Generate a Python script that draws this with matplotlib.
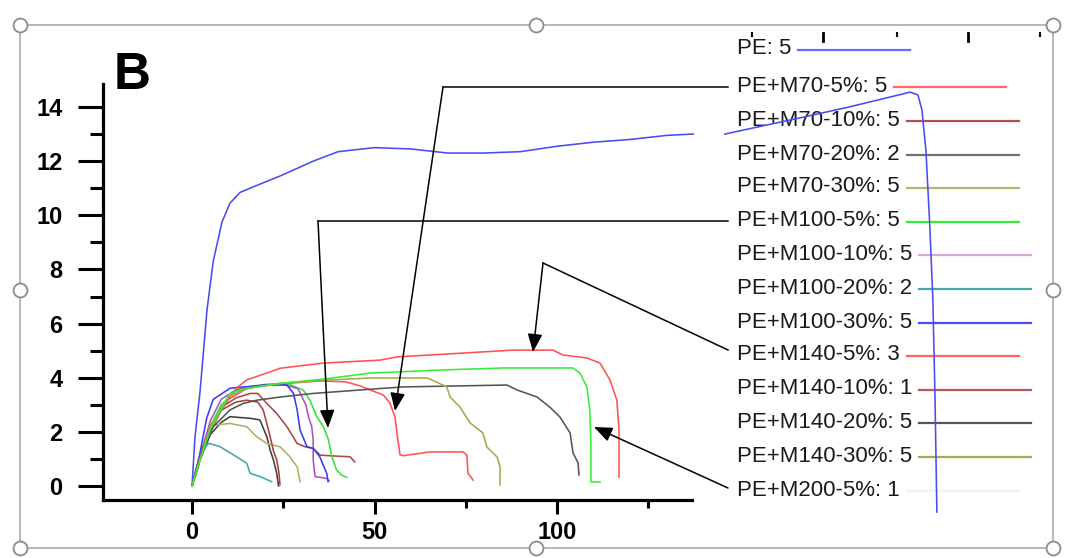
import numpy as np
import matplotlib
matplotlib.use("Agg")
import matplotlib.pyplot as plt
from matplotlib.lines import Line2D
from matplotlib.patches import Rectangle, FancyArrowPatch

# ---------------- data ----------------
pe_x = [0, 0.8, 2.2, 4.1, 5.8, 8.2, 10.4, 13.2, 18.6, 24.1, 33.2, 40, 50, 60, 70, 80, 90, 100, 110,
        120, 130, 137, 146, 166.6, 180, 195.3, 196.7, 198.9, 200, 201.1, 202.2, 203, 203.6, 204.1]
pe_y = [0, 1.8, 3.5, 6.5, 8.3, 9.75, 10.45, 10.85, 11.15, 11.45, 12.0, 12.35, 12.5, 12.45, 12.3, 12.3, 12.35,
        12.55, 12.7, 12.8, 12.95, 13.0, 13.0, 13.6, 14.0, 14.5, 14.55, 14.45, 13.9, 12.4, 9.5, 6.9, 3.2, -0.96]

m70_5_x = [0, 2, 5, 10, 15, 20, 27, 35, 42, 46, 48.8, 52.4, 54.2, 55.6, 56.4, 57, 58, 65.2, 74.2, 75.3, 75.6, 77]
m70_5_y = [0, 1.0, 2.2, 3.2, 3.6, 3.75, 3.8, 3.88, 3.85, 3.7, 3.55, 3.36, 3.07, 2.55, 1.7, 1.15, 1.12, 1.26, 1.26, 1.15, 0.48, 0.22]

m70_10_x = [0, 2, 5, 8, 12, 16, 18, 20.5, 23.2, 26, 28.8, 31, 33.2, 35.1, 40, 43.3, 44.6]
m70_10_y = [0, 1.0, 2.2, 2.9, 3.25, 3.42, 3.42, 3.05, 2.68, 2.19, 1.57, 1.45, 1.39, 1.14, 1.1, 1.08, 0.89]

m70_20_x = [0, 2, 5, 8, 10.4, 16, 18.6, 20.5, 21.4, 22.3, 23.2, 23.7]
m70_20_y = [0, 0.9, 1.9, 2.35, 2.56, 2.50, 2.44, 1.82, 1.33, 0.96, 0.47, 0.0]

m70_30_x = [0, 2, 4, 5.8, 10.4, 15, 17.7, 20.5, 24.1, 26.8, 28.8, 29.6]
m70_30_y = [0, 1.0, 1.8, 2.25, 2.31, 2.19, 1.82, 1.57, 1.45, 1.08, 0.71, 0.16]

m100_5_x = [0, 2, 5, 8, 12, 18, 24, 26.8, 30.5, 32.3, 34.2, 36, 37.4, 38.3, 39.6, 41, 42.4]
m100_5_y = [0, 0.9, 2.2, 3.0, 3.5, 3.7, 3.79, 3.75, 3.54, 3.17, 2.56, 2.19, 1.70, 1.08, 0.59, 0.4, 0.32]

m100_10_x = [0, 2, 5, 8, 12, 18, 25, 29, 31.2, 31.9, 32.8, 33.2, 33.2, 33.7, 36.9, 37.5]
m100_10_y = [0, 1.0, 2.4, 3.2, 3.55, 3.7, 3.75, 3.6, 3.0, 2.56, 2.19, 1.70, 0.96, 0.35, 0.28, 0.2]

m100_20_x = [0, 1, 2.5, 4.5, 7.7, 12.2, 15, 15.9, 18.6, 21.8]
m100_20_y = [0, 0.6, 1.2, 1.58, 1.45, 1.08, 0.84, 0.47, 0.35, 0.16]

m100_30_x = [0, 2, 4, 5.8, 10.4, 15, 19.6, 26, 27.8, 28.8, 29.6, 31.5, 33.2, 35, 36.9, 37.3]
m100_30_y = [0, 1.1, 2.5, 3.2, 3.61, 3.67, 3.73, 3.73, 3.42, 2.81, 2.07, 1.45, 1.39, 1.08, 0.47, 0.16]

m140_5_x = [0, 1, 2.2, 4, 5.8, 8, 10.4, 12.5, 15, 20, 24.1, 35.9, 51.5, 56.2, 74.2, 88, 98.9, 101.6,
            108.2, 111.8, 114.5, 116.4, 117, 117]
m140_5_y = [0, 0.5, 1.05, 1.7, 2.19, 2.8, 3.30, 3.65, 3.92, 4.15, 4.35, 4.54, 4.65, 4.77, 4.91, 5.02,
            5.02, 4.84, 4.73, 4.54, 3.92, 3.18, 2.07, 0.33]

m140_10_x = [0, 2, 5, 8, 12, 15, 18, 19.5, 20.5, 21.4, 22.3, 23.2, 23.8, 24.1]
m140_10_y = [0, 1.0, 2.2, 2.8, 3.1, 3.17, 3.1, 2.81, 2.3, 1.82, 1.3, 0.96, 0.5, 0.05]

m140_20_x = [0, 1.5, 3.1, 5.8, 10.4, 14, 17.7, 25, 33.2, 51.5, 57.8, 86.3, 89, 94.5, 98, 100.8,
             103.6, 104.4, 105.8, 106]
m140_20_y = [0, 0.6, 1.45, 2.19, 2.81, 3.05, 3.17, 3.3, 3.42, 3.6, 3.66, 3.73, 3.55, 3.29, 2.92,
             2.55, 1.96, 1.22, 0.85, 0.41]

m140_30_x = [0, 2, 5, 10, 15, 25, 35, 48.8, 64.4, 67, 69.8, 70.7, 73.4, 76.2, 79.7, 80.8, 83.6, 84.4, 84.4]
m140_30_y = [0, 0.9, 2.2, 3.3, 3.6, 3.8, 3.9, 3.99, 3.99, 3.84, 3.66, 3.29, 2.92, 2.33, 1.96, 1.44, 1.07, 0.70, 0.04]

m200_5_x = [0, 2, 5, 10.4, 15, 24.1, 36, 48.8, 67, 85.2, 104.4, 106.3, 108.2, 109, 109.3, 109.3, 111.8]
m200_5_y = [0, 0.9, 2.1, 3.42, 3.61, 3.79, 3.95, 4.17, 4.28, 4.36, 4.36, 4.17, 3.66, 2.81, 1.5, 0.15, 0.15]

legend_labels = ["PE: 5", "PE+M70-5%: 5", "PE+M70-10%: 5", "PE+M70-20%: 2", "PE+M70-30%: 5",
                 "PE+M100-5%: 5", "PE+M100-10%: 5", "PE+M100-20%: 2", "PE+M100-30%: 5",
                 "PE+M140-5%: 3", "PE+M140-10%: 1", "PE+M140-20%: 5", "PE+M140-30%: 5",
                 "PE+M200-5%: 1"]
legend_colors = ["#6a6aff", "#ff6666", "#b05050", "#707070", "#b5b56e", "#33ee33", "#d9a6d9",
                 "#45a8a8", "#4a4aff", "#ff6060", "#b85a5a", "#555555", "#aaaa50", "#e6fae6"]

curves = [
    (pe_x, pe_y, "#4b4bf5"),
    (m70_5_x, m70_5_y, "#ff5252"),
    (m70_10_x, m70_10_y, "#a84848"),
    (m70_20_x, m70_20_y, "#404040"),
    (m70_30_x, m70_30_y, "#b0b060"),
    (m100_5_x, m100_5_y, "#33e633"),
    (m100_10_x, m100_10_y, "#b050c0"),
    (m100_20_x, m100_20_y, "#40a8a8"),
    (m100_30_x, m100_30_y, "#3a3aff"),
    (m140_5_x, m140_5_y, "#ff5252"),
    (m140_10_x, m140_10_y, "#a84040"),
    (m140_20_x, m140_20_y, "#555555"),
    (m140_30_x, m140_30_y, "#a8a850"),
    (m200_5_x, m200_5_y, "#33ee33"),
]

x_major = [0, 50, 100]
x_minor = [25, 75, 125]
y_major = [0, 2, 4, 6, 8, 10, 12, 14]
y_minor = [1, 3, 5, 7, 9, 11, 13]

# ---------------- layout ----------------
W, H = 1067, 558
plt.rcParams["font.family"] = ["Liberation Sans", "DejaVu Sans"]
fig = plt.figure(figsize=(W / 100, H / 100), dpi=100)
fig.patch.set_facecolor("white")


def F(x, y):
    return (x / W, 1 - y / H)


ax = fig.add_axes([103 / W, 1 - 500 / H, (692 - 103) / W, (500 - 84) / H])
ax.set_zorder(10)
ax.patch.set_alpha(0)
ax.set_xlim(-24.4, 137.0)
ax.set_ylim(-0.517, 14.85)

for xs, ys, c in curves:
    ax.plot(xs, ys, color=c, lw=1.15, clip_on=False, solid_joinstyle="round")

for s in ["top", "right"]:
    ax.spines[s].set_visible(False)
for s in ["left", "bottom"]:
    ax.spines[s].set_linewidth(2.3)
    ax.spines[s].set_color("black")

ax.set_xticks(x_major)
ax.set_xticks(x_minor, minor=True)
ax.set_yticks(y_major)
ax.set_yticks(y_minor, minor=True)
ax.set_xticklabels([str(v) for v in x_major], fontweight="bold", fontsize=17)
ax.set_yticklabels([str(v) for v in y_major], fontweight="bold", fontsize=17)
ax.tick_params(axis="y", which="major", length=18, width=2.2, pad=11, direction="out")
ax.tick_params(axis="y", which="minor", length=9.5, width=2.2, direction="out")
ax.tick_params(axis="x", which="major", length=10, width=2.2, pad=5, direction="out")
ax.tick_params(axis="x", which="minor", length=6, width=2.2, direction="out")

# gap in the PE curve (covered region between the plot and the legend)
fig.add_artist(Rectangle(F(694, 150), 30 / W, 40 / H, transform=fig.transFigure,
                         facecolor="white", edgecolor="none", zorder=20))

# selection frame with handles
frame = Rectangle(F(20, 548), (1053 - 20) / W, (548 - 25) / H, transform=fig.transFigure,
                  facecolor="none", edgecolor="#ababab", lw=1.2, zorder=1)
fig.add_artist(frame)
handles_px = [(20, 25), (536, 25), (1053, 25), (20, 290), (1053, 290), (20, 548), (536, 548), (1053, 548)]
for hx, hy in handles_px:
    fx, fy = F(hx, hy)
    fig.add_artist(Line2D([fx], [fy], transform=fig.transFigure, marker="o", markersize=10,
                          markerfacecolor="white", markeredgecolor="#8c8c8c", markeredgewidth=1.3,
                          linestyle="none", zorder=30))

# stray tick marks at the top
for tx, long in [(752, False), (823, True), (897, False), (968, True), (1040, False)]:
    y1 = 41 if long else 36
    fig.add_artist(Line2D([tx / W, tx / W], [1 - 33 / H, 1 - y1 / H], transform=fig.transFigure,
                          color="black", lw=2.0 if long else 1.5, zorder=2))

# panel letter
fig.text(*F(114, 89), "B", fontsize=37, fontweight="bold", color="black", ha="left", va="baseline")

# legend
rows_y = [49, 86, 120, 154, 187, 221, 254, 288, 322, 355, 389, 422, 456, 490]
texts = []
for lab, ry in zip(legend_labels, rows_y):
    t = fig.text(*F(737, ry), lab, fontsize=16, color="#1a1a1a", ha="left", va="center", zorder=2)
    texts.append(t)
fig.canvas.draw()
renderer = fig.canvas.get_renderer()
for t, c, ry in zip(texts, legend_colors, rows_y):
    bb = t.get_window_extent(renderer)
    x0 = bb.x1 + 7
    fig.add_artist(Line2D([x0 / W, (x0 + 112) / W], [1 - (ry + 1) / H] * 2, transform=fig.transFigure,
                          color=c, lw=1.6, zorder=3))


# annotation arrows
def poly(points):
    xs = [p[0] / W for p in points]
    ys = [1 - p[1] / H for p in points]
    fig.add_artist(Line2D(xs, ys, transform=fig.transFigure, color="black", lw=1.1, zorder=25))


def arrow(p0, p1):
    fig.add_artist(FancyArrowPatch(F(*p0), F(*p1), transform=fig.transFigure,
                                   arrowstyle="-|>,head_length=11,head_width=4.5", mutation_scale=1,
                                   color="black", lw=1.1, shrinkA=0, shrinkB=0, zorder=25))


poly([(728, 87), (443, 87)]); arrow((443, 87), (395, 411))
poly([(728, 221), (318, 221)]); arrow((318, 221), (328, 428))
poly([(728, 350), (543, 263)]); arrow((543, 263), (533, 352))
arrow((728, 488), (594, 427))

fig.savefig("out.png", dpi=100, facecolor="white")
